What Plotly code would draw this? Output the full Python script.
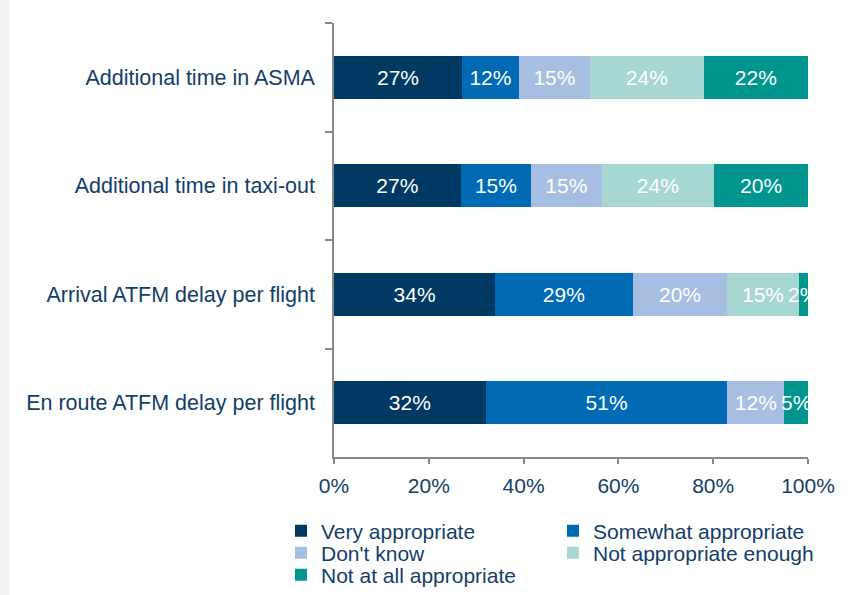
import plotly.graph_objects as go

categories = ["Additional time in ASMA", "Additional time in taxi-out",
              "Arrival ATFM delay per flight", "En route ATFM delay per flight"]
series_names = ["Very appropriate", "Somewhat appropriate", "Don't know",
                "Not appropriate enough", "Not at all appropriate"]
very_appropriate = [27, 27, 34, 32]
somewhat_appropriate = [12, 15, 29, 51]
dont_know = [15, 15, 20, 12]
not_appropriate_enough = [24, 24, 15, 0]
not_at_all_appropriate = [22, 20, 2, 5]
x_tick_values = [0, 20, 40, 60, 80, 100]
x_tick_labels = ["0%", "20%", "40%", "60%", "80%", "100%"]

colors = ["#003A63", "#006BB4", "#A6BEE1", "#A6D7D3", "#00968F"]
legend_rows = ["legend", "legend", "legend2", "legend2", "legend3"]
text_color = "#123E68"
font_family = "Liberation Sans, Arial, sans-serif"
FS = 21

series_values = [very_appropriate, somewhat_appropriate, dont_know,
                 not_appropriate_enough, not_at_all_appropriate]

fig = go.Figure()
for name, vals, col, lg in zip(series_names, series_values, colors, legend_rows):
    fig.add_trace(go.Bar(
        y=categories, x=vals, name=name, orientation="h",
        marker=dict(color=col, line=dict(width=0)),
        text=[f"{v}%" if v > 0 else "" for v in vals],
        textposition="inside", insidetextanchor="middle", textangle=0,
        textfont=dict(color="white", size=FS, family=font_family),
        cliponaxis=True, hoverinfo="skip", legend=lg,
    ))

W, H = 856, 595
L, R, T, B = 334, 48, 23, 138
PW, PH = W - L - R, H - T - B


def px_x(px):
    return (px - L) / PW


def px_y(py):
    return (H - B - py) / PH


def legend_row(py):
    return dict(
        orientation="h", xref="paper", yref="paper",
        x=px_x(281), xanchor="left", y=px_y(py), yanchor="middle",
        entrywidth=227, entrywidthmode="pixels",
        font=dict(size=FS, color=text_color, family=font_family),
        traceorder="normal", itemclick=False, itemdoubleclick=False,
        bgcolor="rgba(0,0,0,0)", borderwidth=0,
    )


fig.update_layout(
    width=W, height=H,
    barmode="stack", barnorm="percent", bargap=0.6,
    margin=dict(l=L, r=R, t=T, b=B, pad=0, autoexpand=False),
    paper_bgcolor="white", plot_bgcolor="white",
    font=dict(family=font_family, size=FS, color=text_color),
    uniformtext=dict(mode="show", minsize=FS),
    showlegend=True,
    legend=legend_row(531),
    legend2=legend_row(553),
    legend3=legend_row(575),
    shapes=[dict(type="rect", xref="paper", yref="paper",
                 x0=px_x(0), x1=px_x(9), y0=px_y(H + 5), y1=px_y(-5),
                 fillcolor="#F2F2F2", line=dict(width=0), layer="below")],
)
fig.update_xaxes(
    range=[0, 100], tickvals=x_tick_values, ticktext=x_tick_labels,
    showgrid=False, zeroline=False, showline=True, linecolor="#888888", linewidth=1.5,
    ticks="outside", ticklen=5, tickcolor="#888888", tickwidth=1.5,
    tickfont=dict(size=FS, color=text_color), ticklabelstandoff=4,
    fixedrange=True,
)
fig.update_yaxes(
    categoryorder="array", categoryarray=categories, autorange="reversed",
    showgrid=False, zeroline=False, showline=True, linecolor="#888888", linewidth=1.5,
    ticks="outside", ticklen=7, tickcolor="#888888", tickwidth=1.5, tickson="boundaries",
    tickfont=dict(size=21.5, color=text_color), ticklabelstandoff=13,
    fixedrange=True,
)

fig.write_html("out.html", config={"displayModeBar": False},
               post_script="document.body.style.margin='0';document.body.style.padding='0';")
